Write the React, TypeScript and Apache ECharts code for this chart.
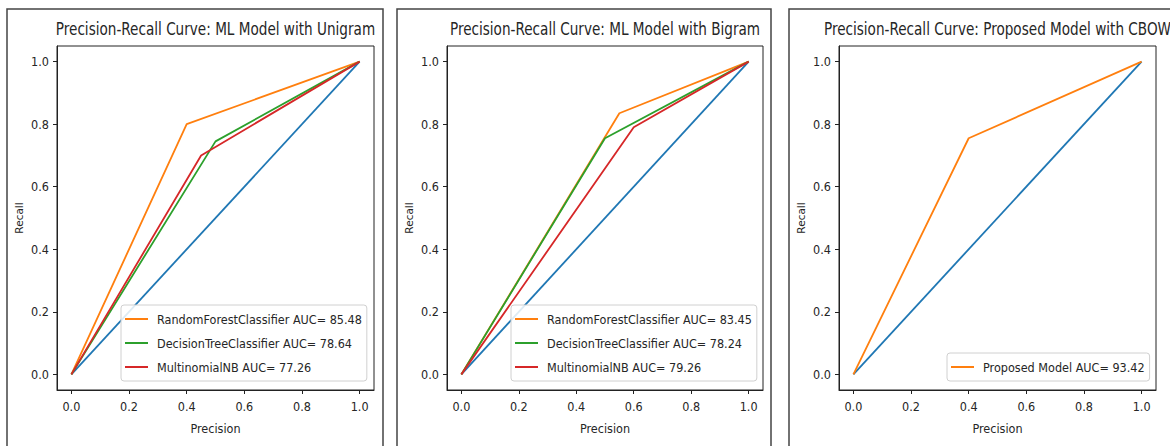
import React, { useEffect, useRef } from "react";
import * as echarts from "echarts";

// ---- data ----
const titles = [
  "Precision-Recall Curve: ML Model with Unigram",
  "Precision-Recall Curve: ML Model with Bigram",
  "Precision-Recall Curve: Proposed Model with CBOW",
];
const tickValues = [0, 0.2, 0.4, 0.6, 0.8, 1.0];

const baselinePrecision = [0, 1];
const baselineRecall = [0, 1];

// Unigram
const uniRFPrecision = [0, 0.4, 1];
const uniRFRecall = [0, 0.8, 1];
const uniDTPrecision = [0, 0.5, 1];
const uniDTRecall = [0, 0.745, 1];
const uniNBPrecision = [0, 0.45, 1];
const uniNBRecall = [0, 0.7, 1];

// Bigram
const biRFPrecision = [0, 0.55, 1];
const biRFRecall = [0, 0.835, 1];
const biDTPrecision = [0, 0.5, 1];
const biDTRecall = [0, 0.755, 1];
const biNBPrecision = [0, 0.6, 1];
const biNBRecall = [0, 0.79, 1];

// CBOW
const cbowPrecision = [0, 0.4, 1];
const cbowRecall = [0, 0.755, 1];

const uniNames = [
  "RandomForestClassifier AUC= 85.48",
  "DecisionTreeClassifier AUC= 78.64",
  "MultinomialNB AUC= 77.26",
];
const biNames = [
  "RandomForestClassifier AUC= 83.45",
  "DecisionTreeClassifier AUC= 78.24",
  "MultinomialNB AUC= 79.26",
];
const cbowNames = ["Proposed Model AUC= 93.42"];

const pair = (xs: number[], ys: number[]) => xs.map((x, i) => [x, ys[i]]);

const BLUE = "#1f77b4";
const ORANGE = "#ff7f0e";
const GREEN = "#2ca02c";
const RED = "#d62728";
const COND = "'DejaVu Sans Condensed', 'DejaVu Sans', sans-serif";
const TEXT = "#262626";

export default function App() {
  const ref = useRef<HTMLDivElement>(null);
  useEffect(() => {
    if (!ref.current) return;
    const chart = echarts.init(ref.current, undefined, { renderer: "svg" });

    const grids = [
      { left: 57, top: 46, width: 317, height: 344 },
      { left: 447, top: 46, width: 316, height: 344 },
      { left: 839, top: 46, width: 317, height: 344 },
    ];
    const centers = grids.map((g) => g.left + g.width / 2);

    const xAxes = grids.map((_, i) => ({
      type: "value",
      gridIndex: i,
      min: -0.05,
      max: 1.05,
      name: "Precision",
      nameLocation: "middle",
      nameGap: 32,
      nameTextStyle: { fontFamily: COND, fontSize: 12.5, color: TEXT },
      axisLine: { show: true, onZero: false, lineStyle: { color: "#222", width: 1 } },
      axisTick: { show: true, length: 4, customValues: tickValues, lineStyle: { color: "#222" } },
      axisLabel: {
        customValues: tickValues,
        formatter: (v: number) => v.toFixed(1),
        fontFamily: COND,
        fontSize: 12.5,
        color: TEXT,
        margin: 10,
      },
      splitLine: { show: false },
    }));
    const yAxes = grids.map((_, i) => ({
      type: "value",
      gridIndex: i,
      min: -0.05,
      max: 1.05,
      name: "Recall",
      nameLocation: "middle",
      nameGap: 33,
      nameTextStyle: { fontFamily: "'DejaVu Sans', sans-serif", fontSize: 10.5, color: TEXT },
      axisLine: { show: true, onZero: false, lineStyle: { color: "#222", width: 1 } },
      axisTick: { show: true, length: 4, customValues: tickValues, lineStyle: { color: "#222" } },
      axisLabel: {
        customValues: tickValues,
        formatter: (v: number) => v.toFixed(1),
        fontFamily: COND,
        fontSize: 12.5,
        color: TEXT,
        margin: 8,
      },
      splitLine: { show: false },
    }));

    const line = (name: string, data: number[][], color: string, idx: number) => ({
      type: "line",
      name,
      xAxisIndex: idx,
      yAxisIndex: idx,
      data,
      symbol: "none",
      lineStyle: { color, width: 1.8 },
      itemStyle: { color },
    });

    const series = [
      line("baseline-1", pair(baselinePrecision, baselineRecall), BLUE, 0),
      line(uniNames[0], pair(uniRFPrecision, uniRFRecall), ORANGE, 0),
      line(uniNames[1], pair(uniDTPrecision, uniDTRecall), GREEN, 0),
      line(uniNames[2], pair(uniNBPrecision, uniNBRecall), RED, 0),
      line("baseline-2", pair(baselinePrecision, baselineRecall), BLUE, 1),
      line(biNames[0], pair(biRFPrecision, biRFRecall), ORANGE, 1),
      line(biNames[1], pair(biDTPrecision, biDTRecall), GREEN, 1),
      line(biNames[2], pair(biNBPrecision, biNBRecall), RED, 1),
      line("baseline-3", pair(baselinePrecision, baselineRecall), BLUE, 2),
      line(cbowNames[0], pair(cbowPrecision, cbowRecall), ORANGE, 2),
    ];

    const legendBase = {
      orient: "vertical",
      icon: "rect",
      itemWidth: 23,
      itemHeight: 2,
      itemGap: 8,
      backgroundColor: "rgba(255,255,255,0.85)",
      borderColor: "#d0d0d0",
      borderWidth: 1,
      borderRadius: 3,
      selectedMode: false,
      padding: [6, 5, 6, 4],
      textStyle: {
        fontFamily: COND,
        fontSize: 12.5,
        color: TEXT,
        lineHeight: 16,
        padding: [0, 0, 0, 4],
      },
    };

    const frame = (x: number, w: number) => ({
      type: "rect",
      shape: { x, y: 9, width: w, height: 460 },
      style: { fill: "none", stroke: "#444", lineWidth: 1.5 },
      z: -1,
      silent: true,
    });

    chart.setOption({
      animation: false,
      backgroundColor: "#ffffff",
      grid: grids.map((g) => ({ ...g, show: true, borderColor: "#222", borderWidth: 1, backgroundColor: "transparent" })),
      xAxis: xAxes,
      yAxis: yAxes,
      legend: [
        { ...legendBase, data: uniNames, left: 121, top: 305 },
        { ...legendBase, data: biNames, left: 511, top: 305 },
        { ...legendBase, data: cbowNames, left: 947, top: 353 },
      ],
      graphic: [
        frame(7, 376),
        frame(397, 374),
        frame(789, 420),
        ...titles.map((t, i) => ({
          type: "text",
          x: centers[i],
          y: 29,
          scaleX: 0.84,
          silent: true,
          style: {
            text: t,
            fontFamily: COND,
            fontSize: 18,
            fill: TEXT,
            textAlign: "center",
            textVerticalAlign: "middle",
          },
        })),
      ],
      series,
    });

    return () => chart.dispose();
  }, []);

  return (
    <div
      ref={ref}
      style={{ position: "fixed", left: 0, top: 0, width: 1170, height: 446, background: "#fff" }}
    />
  );
}
